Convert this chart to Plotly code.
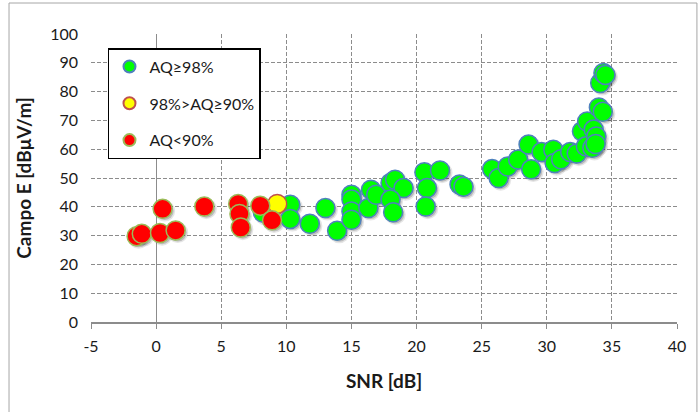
import plotly.graph_objects as go

# Campo E vs SNR, grouped by audio quality (AQ)
snr_high = [8.2, 10.3, 10.3, 11.8, 13.0, 13.9, 15.0, 15.0, 15.0, 15.0,
            16.3, 16.5, 16.9, 18.0, 18.35, 19.0, 18.0, 18.2, 20.6, 21.8,
            20.8, 20.7, 23.3, 23.6, 25.8, 26.3, 27.0, 27.8, 28.6, 28.8,
            29.6, 30.5, 30.6, 31.1, 31.8, 32.3, 32.7, 33.0, 33.1, 33.5,
            33.6, 33.8, 33.75, 34.0, 34.3, 34.1, 34.35, 34.5]
campo_high = [38.0, 40.7, 35.8, 34.1, 39.6, 31.7, 44.2, 42.5, 38.4, 35.5,
              39.6, 45.9, 44.2, 48.3, 49.4, 46.5, 42.5, 38.1, 52.0, 52.6,
              46.5, 40.1, 47.7, 47.0, 53.1, 50.0, 54.0, 56.4, 61.6, 53.0,
              59.0, 59.8, 55.2, 56.5, 59.0, 58.5, 66.2, 61.0, 69.6, 60.5,
              66.8, 64.4, 61.8, 74.5, 73.0, 83.0, 86.5, 85.8]

snr_mid = [9.3]
campo_mid = [41.0]

snr_low = [-1.5, -1.1, 0.3, 1.5, 0.5, 3.7, 6.3, 6.4, 6.5, 8.0, 8.9]
campo_low = [29.8, 30.6, 30.9, 31.8, 39.3, 40.1, 41.0, 37.5, 32.8, 40.4, 35.3]

x_ticks = [-5, 0, 5, 10, 15, 20, 25, 30, 35, 40]
y_ticks = [0, 10, 20, 30, 40, 50, 60, 70, 80, 90, 100]

series = [
    ("AQ≥98%", snr_high, campo_high, "#00FF00", "#4F81BD"),
    ("98%>AQ≥90%", snr_mid, campo_mid, "#FFFF00", "#C0504D"),
    ("AQ<90%", snr_low, campo_low, "#FF0000", "#9BBB59"),
]

FONT = "Lato"
GRID = "#8C8C8C"
TEXT = "#1A1A1A"

fig = go.Figure()

# soft drop shadows, drawn on a hidden axis pair whose range is nudged
for name, xs, ys, fill, edge in series:
    fig.add_trace(go.Scatter(
        x=xs, y=ys, mode="markers", xaxis="x", yaxis="y",
        marker=dict(size=21, color="rgba(0,0,0,0.10)", line=dict(width=0)),
        showlegend=False, hoverinfo="skip"))
    fig.add_trace(go.Scatter(
        x=xs, y=ys, mode="markers", xaxis="x", yaxis="y",
        marker=dict(size=18, color="rgba(0,0,0,0.18)", line=dict(width=0)),
        showlegend=False, hoverinfo="skip"))

for name, xs, ys, fill, edge in series:
    fig.add_trace(go.Scatter(
        x=xs, y=ys, mode="markers", name=name, legendgroup=name,
        xaxis="x2", yaxis="y2",
        marker=dict(size=19, color=fill, line=dict(color=edge, width=1.5))))

fig.update_layout(
    width=699, height=412,
    margin=dict(l=91, r=22, t=34, b=90),
    paper_bgcolor="white", plot_bgcolor="white",
    font=dict(family=FONT, size=16, color=TEXT),
    xaxis=dict(range=[-5 - 0.16, 40 - 0.16], visible=False, fixedrange=True),
    yaxis=dict(range=[0 + 0.75, 100 + 0.75], visible=False, fixedrange=True),
    xaxis2=dict(
        overlaying="x", anchor="y2", range=[-5, 40],
        tickvals=x_ticks, ticktext=[str(v) for v in x_ticks],
        showgrid=True, gridcolor=GRID, gridwidth=1, griddash="4px,2px",
        zeroline=True, zerolinecolor="#8C8C8C", zerolinewidth=1.3,
        showline=True, linecolor="#8C8C8C", linewidth=1.5,
        ticks="outside", ticklen=5, tickcolor="#8C8C8C", tickwidth=1,
        ticklabelstandoff=4,
        tickfont=dict(family=FONT, size=16, color=TEXT),
        title=dict(text="<b>SNR [dB]</b>", standoff=21,
                   font=dict(family=FONT, size=19, color=TEXT)),
        automargin=False,
    ),
    yaxis2=dict(
        overlaying="y", anchor="x2", side="left", range=[0, 100],
        tickvals=y_ticks, ticktext=[str(v) for v in y_ticks],
        showgrid=True, gridcolor=GRID, gridwidth=1, griddash="4px,2px",
        zeroline=False, showline=False,
        ticks="", ticklabelstandoff=12,
        tickfont=dict(family=FONT, size=16, color=TEXT),
        title=dict(text="<b>Campo E [dBμV/m]</b>", standoff=13,
                   font=dict(family=FONT, size=19, color=TEXT)),
        automargin=False,
    ),
    legend=dict(
        x=0.029, y=0.951, xanchor="left", yanchor="top",
        bgcolor="white", bordercolor="black", borderwidth=1.5,
        font=dict(family=FONT, size=16, color=TEXT),
        itemsizing="constant", tracegroupgap=13,
    ),
    shapes=[dict(
        type="rect", xref="paper", yref="paper", layer="below",
        x0=-0.1399, x1=1.034, y0=-0.40, y1=1.1076,
        line=dict(color="#A6A6A6", width=1), fillcolor="rgba(0,0,0,0)")],
)

fig.write_html("out.html")
